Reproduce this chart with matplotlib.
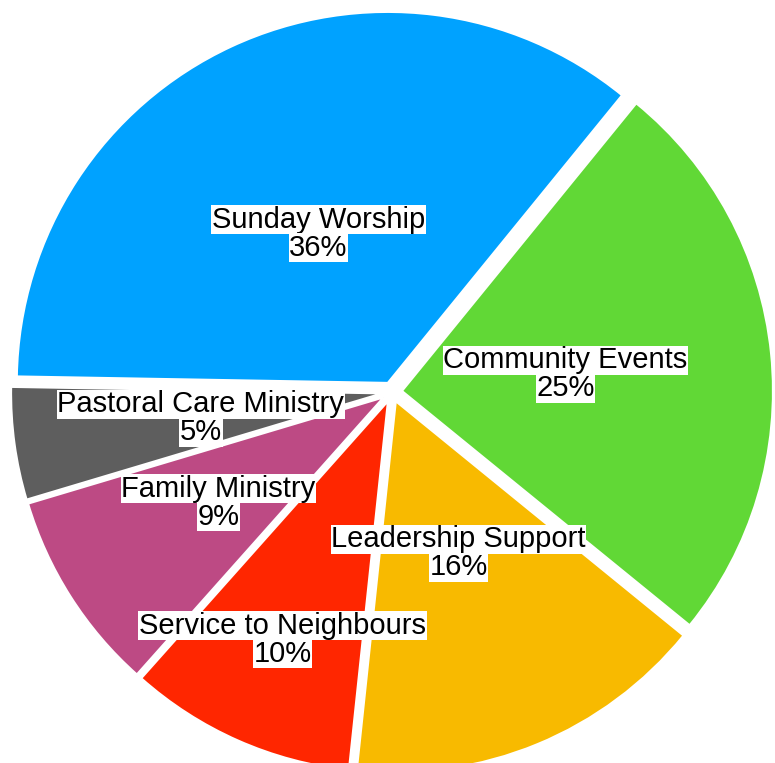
import numpy as np
import matplotlib.pyplot as plt

# Data
categories = ['Sunday Worship', 'Community Events', 'Leadership Support',
              'Service to Neighbours', 'Family Ministry', 'Pastoral Care Ministry']
shares = [35.6, 25.0, 15.8, 9.9, 8.8, 4.9]
pct_labels = ['36%', '25%', '16%', '10%', '9%', '5%']
colors = ['#00A2FF', '#61D836', '#F8BA00', '#FF2600', '#BD4A84', '#5E5E5E']

# label distance from centre (fraction of radius), per slice
label_r = [0.47, 0.47, 0.47, 0.73, 0.555, 0.52]

plt.rcParams['font.family'] = ['Liberation Sans', 'DejaVu Sans']

W, H = 775, 763
cx, cy, R = 392, 392, 371

fig = plt.figure(figsize=(W / 100, H / 100), dpi=100)
ax = fig.add_axes([0, 0, 1, 1])

wedges, _ = ax.pie(shares, colors=colors, startangle=179, counterclock=False,
                   explode=[0.027] * len(shares), radius=1.0,
                   wedgeprops=dict(edgecolor='white', linewidth=1.5))

box = dict(facecolor='white', edgecolor='none', boxstyle='square,pad=0.02')
for w, name, pct, r in zip(wedges, categories, pct_labels, label_r):
    ang = np.deg2rad((w.theta1 + w.theta2) / 2)
    x, y = r * np.cos(ang), r * np.sin(ang)
    ax.text(x, y, name, ha='center', va='bottom', fontsize=21, color='black', bbox=box)
    ax.text(x, y, pct, ha='center', va='top', fontsize=21, color='black', bbox=box)

ax.set_xlim(-cx / R, (W - cx) / R)
ax.set_ylim(-(H - cy) / R, cy / R)
ax.set_aspect('equal')
ax.axis('off')

plt.savefig('out.png', dpi=100)
